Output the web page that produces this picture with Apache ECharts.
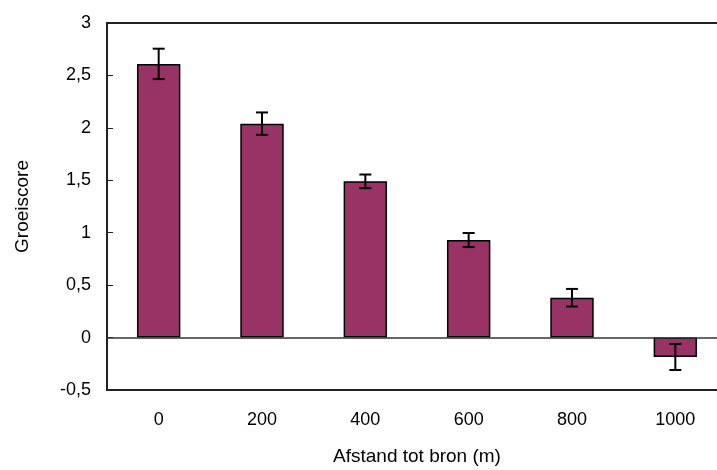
<!DOCTYPE html>
<html>
<head>
<meta charset="utf-8">
<script src="https://cdn.jsdelivr.net/npm/echarts@6/dist/echarts.min.js"></script>
<style>html,body{margin:0;padding:0;background:#fff;}#c{width:717px;height:470px;}</style>
</head>
<body>
<div id="c"></div>
<script>
var categories = ['0', '200', '400', '600', '800', '1000'];
var values = [2.61, 2.04, 1.49, 0.93, 0.38, -0.185];
var errors = [0.145, 0.107, 0.065, 0.067, 0.084, 0.124];
var yTicks = { min: -0.5, max: 3, interval: 0.5 };
var xTitle = 'Afstand tot bron (m)';
var yTitle = 'Groeiscore';

var errData = categories.map(function (c, i) { return [i, values[i] - errors[i], values[i] + errors[i]]; });

var chart = echarts.init(document.getElementById('c'), null, { renderer: 'canvas' });
var font = 'Liberation Sans, Arial, sans-serif';
chart.setOption({
  animation: false,
  backgroundColor: '#fff',
  grid: { left: 107, top: 23, width: 620, height: 367, outerBoundsMode: 'none', containLabel: false, show: true, borderColor: '#222', borderWidth: 2, backgroundColor: 'transparent' },
  xAxis: {
    type: 'category',
    data: categories,
    axisLine: { onZero: false, lineStyle: { color: '#222', width: 2 } },
    axisTick: { show: false },
    axisLabel: { color: '#000', fontSize: 18, fontFamily: font, margin: 21 },
    name: xTitle,
    nameLocation: 'middle',
    nameGap: 57,
    nameTextStyle: { color: '#000', fontSize: 19, fontFamily: font }
  },
  yAxis: {
    type: 'value',
    min: yTicks.min,
    max: yTicks.max,
    interval: yTicks.interval,
    axisLine: { show: true, lineStyle: { color: '#222', width: 2 } },
    axisTick: { show: true, inside: true, length: 6, lineStyle: { color: '#222', width: 1 } },
    splitLine: { show: false },
    axisLabel: {
      color: '#000', fontSize: 18, fontFamily: font, margin: 16,
      formatter: function (v) { return String(v).replace('.', ','); }
    },
    name: yTitle,
    nameLocation: 'middle',
    nameGap: 75,
    nameTextStyle: { color: '#000', fontSize: 19, fontFamily: font }
  },
  series: [
    {
      type: 'bar',
      data: values,
      barWidth: '42%',
      itemStyle: { color: '#993366', borderColor: '#000', borderWidth: 1.5 },
      markLine: {
        silent: true,
        symbol: ['none', 'none'],
        label: { show: false },
        lineStyle: { color: '#333', width: 1.5, type: 'solid' },
        data: [{ yAxis: 0 }]
      },
      z: 2
    },
    {
      type: 'custom',
      data: errData,
      z: 5,
      renderItem: function (params, api) {
        var x = api.value(0);
        var lo = api.coord([x, api.value(1)]);
        var hi = api.coord([x, api.value(2)]);
        var hw = 6;
        var st = { stroke: '#000', lineWidth: 2 };
        return {
          type: 'group',
          children: [
            { type: 'line', shape: { x1: lo[0], y1: lo[1], x2: hi[0], y2: hi[1] }, style: st },
            { type: 'line', shape: { x1: lo[0] - hw, y1: lo[1], x2: lo[0] + hw, y2: lo[1] }, style: st },
            { type: 'line', shape: { x1: hi[0] - hw, y1: hi[1], x2: hi[0] + hw, y2: hi[1] }, style: st }
          ]
        };
      }
    }
  ]
});
</script>
</body>
</html>
